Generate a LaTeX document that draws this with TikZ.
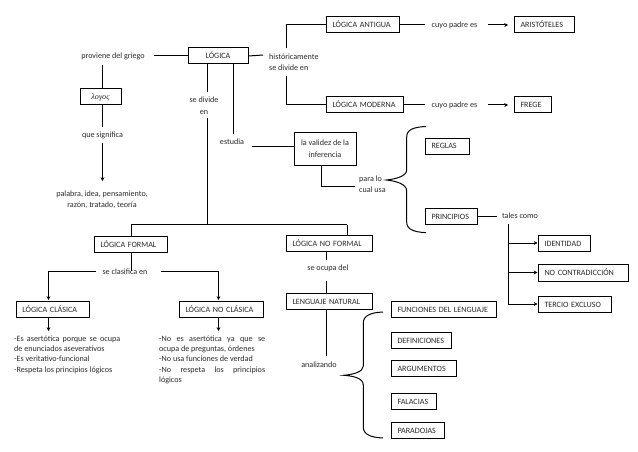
\documentclass[tikz,border=0pt]{standalone}
\usepackage{fontspec}
\setmainfont{Carlito}
\newfontfamily\greekf{Liberation Serif}
\usetikzlibrary{arrows.meta}
\definecolor{ink}{HTML}{2A2A2A}
\tikzset{
  capsline/.style={text height=7pt,text depth=1pt},
  oneline/.style={text height=6.5pt,text depth=2pt},
  boxl/.style n args={2}{draw=black,line width=1pt,inner xsep=6.5pt,inner ysep=0pt,text width=#1pt-13pt,minimum height=#2pt,align=left,text=ink,capsline,font=\fontsize{8.1}{10}\selectfont},
  boxc/.style n args={2}{draw=black,line width=1pt,inner sep=0pt,minimum width=#1pt,minimum height=#2pt,align=center,text=ink,font=\fontsize{8.1}{12}\selectfont},
  lab/.style n args={2}{inner sep=0pt,minimum width=#1pt,minimum height=#2pt,align=center,text=ink,font=\fontsize{8.1}{11}\selectfont},
  labw/.style={inner sep=0pt,anchor=west,align=left,text=ink,font=\fontsize{8.1}{11}\selectfont},
  para/.style={inner sep=0pt,text width=#1pt,align=justify,text=ink,font=\fontsize{8.1}{10.3}\selectfont},
  conn/.style={line width=1pt,black},
  arr/.style={conn,-{Stealth[length=3.8pt,width=3.8pt]}},
  brace/.style={line width=1pt,black}
}
\begin{document}
\begin{tikzpicture}[x=1pt,y=-1pt]
\useasboundingbox[fill=white] (0,0) rectangle (638,452);
% boxes
\node[boxc={60}{16},capsline] (logica) at (218,56) {LÓGICA};
\node[boxc={41}{16},oneline] (griego) at (100.5,97) {{\greekf\itshape λογος}};
\node[boxl={73}{16}] (antigua) at (362.5,25) {LÓGICA ANTIGUA};
\node[boxl={60}{16}] (arist) at (544,25) {ARISTÓTELES};
\node[boxl={77}{16}] (moderna) at (364.5,105) {LÓGICA MODERNA};
\node[boxl={37.5}{16}] (frege) at (532.75,105) {FREGE};
\node[boxc={62}{32}] (validez) at (325,149) {la validez de la\\inferencia};
\node[boxl={44.5}{16}] (reglas) at (447.25,146) {REGLAS};
\node[boxl={52.5}{16}] (principios) at (451.25,216) {PRINCIPIOS};
\node[boxl={73}{16}] (formal) at (130.5,244) {LÓGICA FORMAL};
\node[boxl={86}{16}] (noformal) at (329,243) {LÓGICA NO FORMAL};
\node[boxl={73}{16}] (clasica) at (52.5,309) {LÓGICA CLÁSICA};
\node[boxl={84}{16}] (noclasica) at (221,309) {LÓGICA NO CLÁSICA};
\node[boxl={86}{16}] (lenguaje) at (329,301) {LENGUAJE NATURAL};
\node[boxl={105}{16}] (funciones) at (443.5,309) {FUNCIONES DEL LENGUAJE};
\node[boxl={60}{16}] (definiciones) at (421,340) {DEFINICIONES};
\node[boxl={65}{16}] (argumentos) at (423.5,368) {ARGUMENTOS};
\node[boxl={45.5}{16}] (falacias) at (413.75,401) {FALACIAS};
\node[boxl={53}{16}] (paradojas) at (417.5,430) {PARADOJAS};
\node[boxl={52}{16}] (identidad) at (564,243) {IDENTIDAD};
\node[boxl={90}{17}] (nocontra) at (583,272.5) {NO CONTRADICCIÓN};
\node[boxl={73}{16}] (tercio) at (574.5,304) {TERCIO EXCLUSO};
% labels
\node[lab={82}{18},oneline] (proviene) at (113,56) {proviene del griego};
\node[lab={40}{22},oneline] (quesig) at (102.5,135) {que significa};
\node[lab={100}{22}] (palabra) at (102,200) {palabra, idea, pensamiento,\\razón, tratado, teoría};
\node[labw] (hist) at (269,62) {históricamente\\se divide en};
\node[lab={36}{26}] (sedivide) at (204,106) {se divide\\[1pt]en};
\node[lab={38}{16},oneline] (estudia) at (232,142) {estudia};
\node[labw] (paralo) at (359,184.5) {para lo\\cual usa};
\node[lab={63}{14},oneline] (cuyoa) at (456.5,25) {\hspace*{-4pt}cuyo padre es};
\node[lab={63}{14},oneline] (cuyom) at (456.5,105) {\hspace*{-4pt}cuyo padre es};
\node[lab={46}{12},oneline] (tales) at (520,216) {tales como};
\node[lab={65}{12},oneline] (clasif) at (125,272.5) {se clasifica en};
\node[lab={50}{21},oneline] (ocupa) at (328,268) {se ocupa del};
\node[lab={40}{20},oneline] (analiz) at (319,365.5) {analizando};
\node[para=106,anchor=north west] (textoa) at (14,335.5) {-Es asertótica porque se ocupa\linebreak de enunciados aseverativos\\-Es veritativo-funcional\\-Respeta los principios lógicos};
\node[para=106,anchor=north west] (textob) at (159,335.5) {-No es asertótica ya que se\linebreak ocupa de preguntas, órdenes\\-No usa funciones de verdad\\-No respeta los principios\linebreak lógicos};
% junction coordinates
\coordinate (trunk) at (207.5,224.5);
\coordinate (estx) at (233,134);
\coordinate (estin) at (252,146);
\coordinate (histtop) at (286,48);
\coordinate (histbot) at (286,76);
\coordinate (histin) at (263,55);
\coordinate (vp) at (321,186);
\coordinate (parain) at (355,186);
\coordinate (talesv) at (508,224);
\coordinate (clasl) at (96,271);
\coordinate (clasr) at (161,271);
\coordinate (lnf) at (326.3,260);
\coordinate (lnfb) at (326.3,356);
\coordinate (ocupb) at (326.3,281);
\coordinate (formalx) at (131,224.5);
\coordinate (noformalx) at (347,224.5);
\coordinate (seden) at (207.5,92);
\coordinate (sedens) at (207.5,118);
\coordinate (quesn) at (102.5,127);
\coordinate (quess) at (102.5,143);
\coordinate (palab) at (102.5,181);
\coordinate (provs) at (102.5,65);
% connectors
\draw[conn] (logica.west) -- (proviene.east);
\draw[conn] (provs) -- (provs |- griego.north);
\draw[conn] (quesn |- griego.south) -- (quesn);
\draw[arr] (quess) -- (palab);
\draw[conn] (logica.east) -- (histin);
\draw[conn] (histtop) |- (antigua.west);
\draw[conn] (histbot) |- (moderna.west);
\draw[conn] (antigua.east) -- (cuyoa.west);
\draw[conn] (moderna.east) -- (cuyom.west);
\draw[arr,shorten >=5.5pt] (cuyoa.east) -- (arist.west);
\draw[arr,shorten >=5.5pt] (cuyom.east) -- (frege.west);
\draw[conn] (seden |- logica.south) -- (seden);
\draw[conn] (sedens) -- (trunk);
\draw[conn] (formalx) -- (noformalx);
\draw[conn] (formalx) -- (formalx |- formal.north);
\draw[conn] (noformalx) -- (noformalx |- noformal.north);
\draw[conn] (estx |- logica.south) -- (estx);
\draw[conn] (estin) -- (estin -| validez.west);
\draw[conn] (vp |- validez.south) -- (vp) -- (parain);
\draw[conn] (principios.east) -- (tales.west);
\draw[conn] (talesv) -- (talesv |- tercio.west);
\draw[arr] (talesv |- identidad.west) -- (identidad.west);
\draw[arr] (talesv |- nocontra.west) -- (nocontra.west);
\draw[arr] (talesv |- tercio.west) -- (tercio.west);
\draw[conn] (formalx |- formal.south) -- (formalx |- clasl);
\draw[arr] (clasl) -| (48.5,300);
\draw[arr] (clasr) -| (218.5,300);
\draw[arr] (48.5,317) -- (48.5,331);
\draw[arr] (218.5,317) -- (218.5,331);
\draw[conn] (lnf |- noformal.south) -- (lnf);
\draw[conn] (ocupb) -- (ocupb |- lenguaje.north);
\draw[conn] (lnf |- lenguaje.south) -- (lnfb);
% braces
\draw[brace] (426,126.5) .. controls (413,127) and (406.7,130) .. (406.7,137) -- (406.7,170) .. controls (406.7,176) and (396,179) .. (386.5,180) .. controls (396,181) and (406.7,184) .. (406.7,191) -- (406.7,222) .. controls (406.7,229) and (413,232) .. (426,232.7);
\draw[brace] (383,312) .. controls (370,312.5) and (363.3,316) .. (363.3,323) -- (363.3,366) .. controls (363.3,372) and (353,374.5) .. (344,375.3) .. controls (353,376) and (363.3,378) .. (363.3,385) -- (363.3,427) .. controls (363.3,434) and (370,437.5) .. (383,438);
\end{tikzpicture}
\end{document}
